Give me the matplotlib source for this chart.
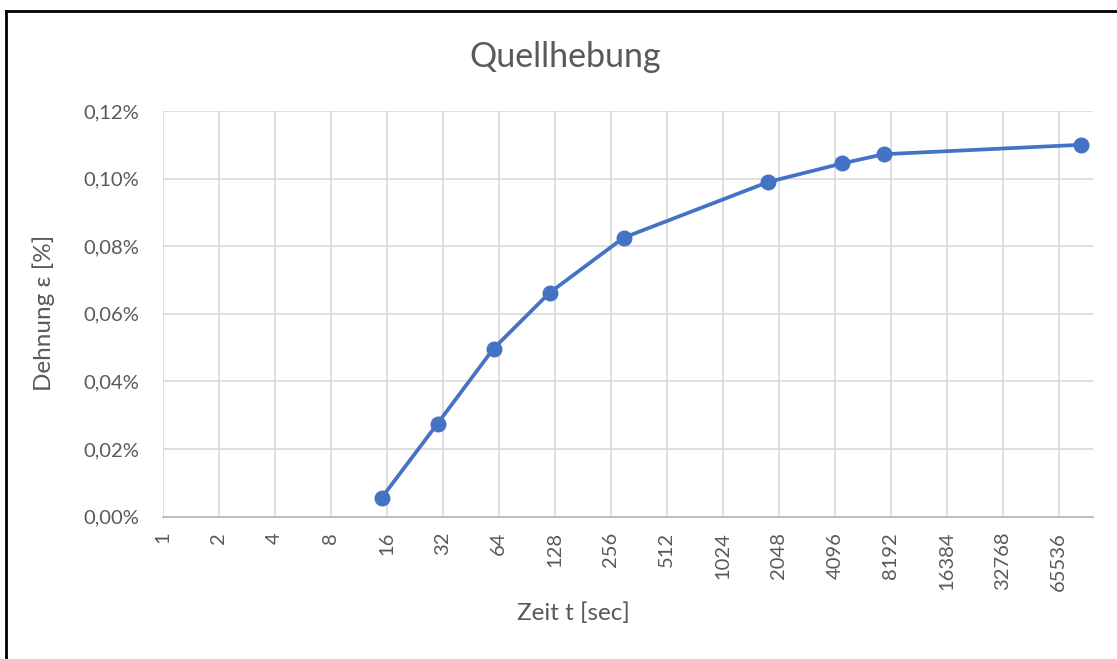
import matplotlib.pyplot as plt
from matplotlib.lines import Line2D
from matplotlib.ticker import FixedLocator, FuncFormatter

# Messwerte: Zeit in Sekunden, Dehnung in Prozent
zeit_sec = [15, 30, 60, 120, 300, 1800, 4500, 7500, 86400]
dehnung_pct = [0.0055, 0.0275, 0.0497, 0.0662, 0.0825, 0.0990, 0.1045, 0.1072, 0.1100]

x_ticks = [2 ** k for k in range(17)]
y_ticks = [0.00, 0.02, 0.04, 0.06, 0.08, 0.10, 0.12]

text_color = '#595959'
grid_color = '#d9d9d9'
line_color = '#4472C4'

plt.rcParams['font.family'] = ['Lato', 'DejaVu Sans']

fig = plt.figure(figsize=(11.17, 6.59), dpi=100)
ax = fig.add_axes([0.1457, 0.2162, 0.8328, 0.6154])

ax.plot(zeit_sec, dehnung_pct, color=line_color, lw=2.7, marker='o',
        markersize=10.5, zorder=3)

ax.set_xscale('log', base=2)
ax.set_xlim(1, 2 ** 16.61)
ax.set_ylim(0, 0.12)
ax.xaxis.set_major_locator(FixedLocator(x_ticks))
ax.xaxis.set_minor_locator(FixedLocator([]))
ax.xaxis.set_major_formatter(FuncFormatter(lambda v, p: f'{int(round(v))}'))
ax.yaxis.set_major_locator(FixedLocator(y_ticks))
ax.yaxis.set_major_formatter(FuncFormatter(lambda v, p: f'{v:.2f}%'.replace('.', ',')))

ax.grid(True, color=grid_color, lw=1.2)
ax.set_axisbelow(True)
for side in ['top', 'right', 'left']:
    ax.spines[side].set_visible(False)
ax.spines['bottom'].set_color('#bfbfbf')
ax.spines['bottom'].set_linewidth(1.5)

ax.tick_params(axis='x', length=0, pad=11, labelsize=14.5, labelcolor=text_color,
               labelrotation=90)
ax.tick_params(axis='y', length=0, pad=17, labelsize=14.5, labelcolor=text_color)

fig.text(565 / 1117, 1 - 57 / 659, 'Quellhebung', ha='center', va='center',
         fontsize=24.5, color=text_color)
fig.text(573 / 1117, 1 - 613 / 659, 'Zeit t [sec]', ha='center', va='center',
         fontsize=17.5, color=text_color)
fig.text(44 / 1117, 1 - 313 / 659, 'Dehnung ε [%]', ha='center', va='center',
         rotation=90, fontsize=17.5, color=text_color)

# Rahmen des Diagramms (links und oben)
fig.add_artist(Line2D([6 / 1117, 6 / 1117], [0, 1 - 11 / 659],
                      transform=fig.transFigure, color='black', lw=2))
fig.add_artist(Line2D([6 / 1117, 1], [1 - 11 / 659, 1 - 11 / 659],
                      transform=fig.transFigure, color='black', lw=2))

fig.savefig('out.png', dpi=100, facecolor='white')
